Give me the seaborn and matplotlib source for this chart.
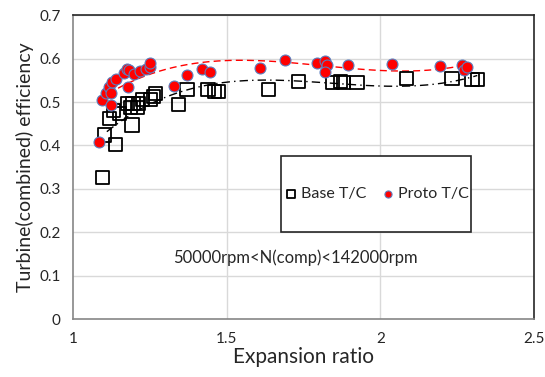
import numpy as np
import pandas as pd
import matplotlib
matplotlib.use("Agg")
import matplotlib.pyplot as plt
import seaborn as sns
from matplotlib.patches import Rectangle

# ---- data ----
base_x = [1.097, 1.102, 1.118, 1.132, 1.138, 1.152, 1.176, 1.186, 1.192, 1.195,
          1.210, 1.214, 1.227, 1.252, 1.262, 1.268, 1.344, 1.371, 1.439, 1.460,
          1.474, 1.637, 1.734, 1.843, 1.870, 1.880, 1.924, 2.085, 2.233, 2.298, 2.315]
base_y = [0.327, 0.424, 0.462, 0.481, 0.403, 0.474, 0.497, 0.488, 0.447, 0.497,
          0.487, 0.497, 0.505, 0.506, 0.512, 0.520, 0.495, 0.529, 0.529, 0.525,
          0.524, 0.529, 0.547, 0.545, 0.547, 0.545, 0.545, 0.554, 0.554, 0.551, 0.551]
proto_x = [1.086, 1.093, 1.107, 1.116, 1.124, 1.125, 1.127, 1.140, 1.165, 1.176,
           1.181, 1.178, 1.197, 1.219, 1.238, 1.249, 1.252, 1.327, 1.371, 1.420,
           1.447, 1.607, 1.689, 1.794, 1.821, 1.826, 1.821, 1.895, 2.038, 2.195,
           2.266, 2.271, 2.282]
proto_y = [0.407, 0.504, 0.520, 0.534, 0.521, 0.492, 0.547, 0.553, 0.566, 0.577,
           0.574, 0.534, 0.564, 0.571, 0.576, 0.581, 0.589, 0.537, 0.562, 0.575,
           0.570, 0.579, 0.596, 0.590, 0.594, 0.585, 0.570, 0.585, 0.587, 0.583,
           0.585, 0.573, 0.581]
series_names = ["Base T/C", "Proto T/C"]
x_ticks = [1, 1.5, 2, 2.5]
y_ticks = [0, 0.1, 0.2, 0.3, 0.4, 0.5, 0.6, 0.7]
annotation = "50000rpm<N(comp)<142000rpm"

sns.set_style("white")
plt.rcParams['font.family'] = ['Lato', 'DejaVu Sans']

fig = plt.figure(figsize=(5.45, 3.77), dpi=100)
ax = fig.add_axes([0.134, 0.153, 0.846, 0.807])

base_df = pd.DataFrame({"x": base_x, "y": base_y})
proto_df = pd.DataFrame({"x": proto_x, "y": proto_y})

# gridlines
for yv in y_ticks[1:]:
    ax.axhline(yv, color="#d9d9d9", lw=1, zorder=0)
for xv in x_ticks[1:-1]:
    ax.axvline(xv, color="#d9d9d9", lw=1, zorder=0)

# trendlines (polynomial fits of the data)
xb = np.linspace(1.11, max(base_x), 200)
pb = np.polyfit(base_x, base_y, 3)
sns.lineplot(x=xb, y=np.polyval(pb, xb), ax=ax, color="black", lw=1.0,
             linestyle=(0, (6, 3, 1, 3)), zorder=2)
xp = np.linspace(1.115, max(proto_x), 200)
pp = np.polyfit(proto_x, proto_y, 3)
sns.lineplot(x=xp, y=np.polyval(pp, xp), ax=ax, color="red", lw=1.0,
             linestyle=(0, (5, 3)), zorder=2)

sns.scatterplot(data=base_df, x="x", y="y", ax=ax, marker="s", s=90,
                facecolor="none", edgecolor="black", linewidth=1.3,
                label=series_names[0], zorder=3)
sns.scatterplot(data=proto_df, x="x", y="y", ax=ax, marker="o", s=62,
                color="#ff0000", edgecolor="#5b7fbf", linewidth=0.8,
                label=series_names[1], zorder=4)

ax.set_xlim(1, 2.5)
ax.set_ylim(0, 0.7)
ax.set_xticks(x_ticks)
ax.set_xticklabels(["1", "1.5", "2", "2.5"])
ax.set_yticks(y_ticks)
ax.set_yticklabels(["0", "0.1", "0.2", "0.3", "0.4", "0.5", "0.6", "0.7"])
ax.tick_params(axis="both", direction="out", length=5, width=1,
               color="#868686", labelsize=11, labelcolor="#262626", pad=4)
ax.set_xlabel("Expansion ratio", fontsize=15, color="#262626", labelpad=1)
ax.set_ylabel("Turbine(combined) efficiency", fontsize=14, color="#262626", labelpad=4)

for s in ["left", "bottom"]:
    ax.spines[s].set_color("#868686")
    ax.spines[s].set_linewidth(1.2)
for s in ["top", "right"]:
    ax.spines[s].set_color("#262626")
    ax.spines[s].set_linewidth(1.2)

# legend box
ax.add_patch(Rectangle((0.451, 0.287), 0.412, 0.25, transform=ax.transAxes,
                       facecolor="white", edgecolor="#262626", lw=1.2, zorder=5))
leg = ax.legend(loc="center", bbox_to_anchor=(0.657, 0.412), ncol=2,
                frameon=False, fontsize=11.5, handletextpad=0.1,
                columnspacing=0.9, handlelength=1.0, markerscale=0.65)
leg.set_zorder(6)

ax.text(1.725, 0.141, annotation, fontsize=12, color="#262626",
        ha="center", va="center")

fig.savefig("out.png", dpi=100)
